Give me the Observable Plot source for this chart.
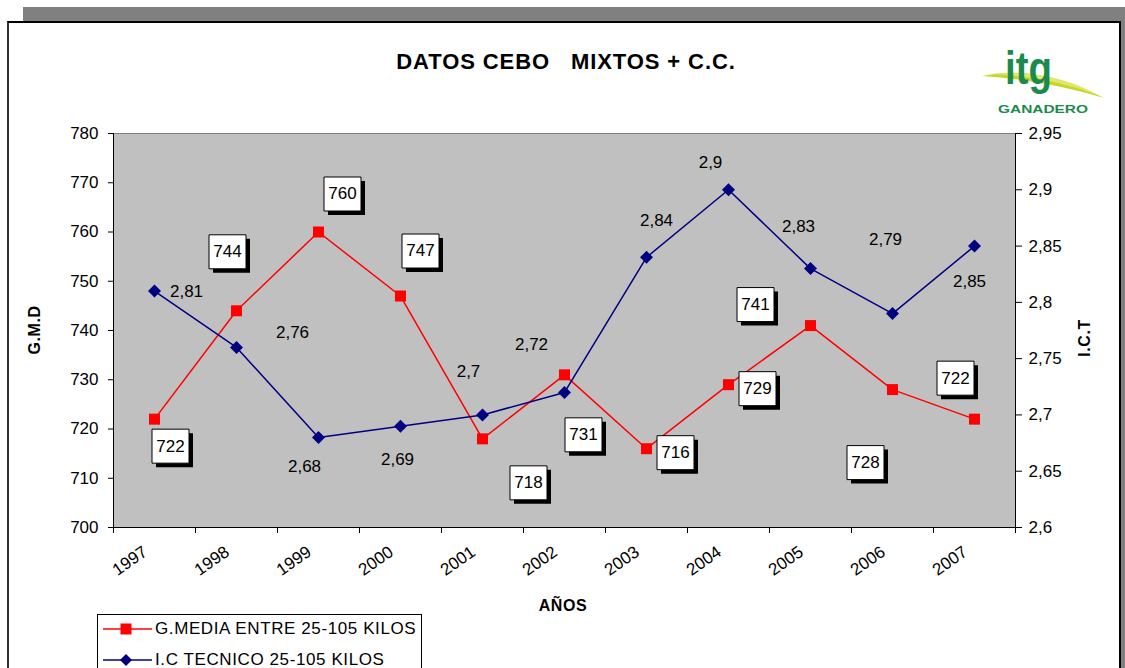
<!DOCTYPE html>
<html><head><meta charset="utf-8">
<script src="https://cdn.jsdelivr.net/npm/d3@7"></script>
<script src="https://cdn.jsdelivr.net/npm/@observablehq/plot@0.6"></script>
<style>
body{margin:0;background:#fff}
#page{position:relative;width:1125px;height:668px;overflow:hidden;background:#fff;font-family:"Liberation Sans",Arial,sans-serif;color:#000}
.abs{position:absolute}
.axt{position:absolute;font-weight:bold;font-size:16px;letter-spacing:0.6px;white-space:nowrap}
</style></head><body>
<div id="page">
  <div class="abs" style="left:23px;top:7px;width:1102px;height:15px;background:#808080"></div>
  <div class="abs" style="left:1121px;top:21px;width:4px;height:660px;background:#808080"></div>
  <div class="abs" style="left:7px;top:21px;width:1110px;height:700px;border-left:2px solid #333;border-top:2px solid #000;border-right:2px solid #000"></div>
  <div id="chart" class="abs" style="left:0;top:0"></div>
  <div class="abs" style="left:0;top:49px;width:1132px;text-align:center;font-weight:bold;font-size:22px;line-height:26px;letter-spacing:0.9px;white-space:pre">DATOS CEBO   MIXTOS + C.C.</div>
  <svg class="abs" style="left:960px;top:30px" width="160" height="100">
    <path d="M22,46 Q80,34 144,68 Q84,50 22,46 Z" fill="#c8d62a"/>
    <path d="M30,44 Q90,38 140,66 Q88,46 30,44 Z" fill="#dfe86a"/>
    <text x="45" y="54" font-size="46" font-weight="bold" fill="#1b8a4c" textLength="47" lengthAdjust="spacingAndGlyphs" font-family="Liberation Sans Narrow, Liberation Sans, Arial">itg</text>
    <text x="38" y="83" font-size="10" font-weight="bold" fill="#1b8a4c" textLength="90" lengthAdjust="spacingAndGlyphs" font-family="Liberation Sans, Arial">GANADERO</text>
  </svg>
  <div class="axt" style="left:35px;top:330px;transform:translate(-50%,-50%) rotate(-90deg)">G.M.D</div>
  <div class="axt" style="left:1085px;top:338px;transform:translate(-50%,-50%) rotate(-90deg)">I.C.T</div>
  <div class="axt" style="left:563px;top:606px;transform:translate(-50%,-50%)">AÑOS</div>
  <div class="abs" id="legend" style="left:97px;top:614px;width:323px;height:70px;border:1px solid #000;background:#fff">
    <svg class="abs" style="left:0;top:0" width="60" height="70">
      <line x1="5" x2="54" y1="14" y2="14" stroke="#ff0000" stroke-width="1.5"/>
      <rect x="22.5" y="8.5" width="11" height="11" fill="#ff0000"/>
      <line x1="5" x2="54" y1="45" y2="45" stroke="#000080" stroke-width="1.5"/>
      <path d="M28,39 L34,45 L28,51 L22,45 Z" fill="#000080"/>
    </svg>
    <div class="abs" style="left:57px;top:4px;font-size:17px;line-height:20px;letter-spacing:0.6px;white-space:nowrap">G.MEDIA ENTRE 25-105 KILOS</div>
    <div class="abs" style="left:57px;top:35px;font-size:17px;line-height:20px;letter-spacing:0.6px;white-space:nowrap">I.C TECNICO 25-105 KILOS</div>
  </div>
</div>
<script>
// ---- data ----
const years = ["1997","1998","1999","2000","2001","2002","2003","2004","2005","2006","2007"];
const gmd = [722, 744, 760, 747, 718, 731, 716, 729, 741, 728, 722];
const ict = [2.81, 2.76, 2.68, 2.69, 2.70, 2.72, 2.84, 2.90, 2.83, 2.79, 2.85];
const gmdTicks = [700, 710, 720, 730, 740, 750, 760, 770, 780];
const ictTicks = [2.6, 2.65, 2.7, 2.75, 2.8, 2.85, 2.9, 2.95];
// data-label offsets from their points (pixels)
const gmdLabelDx = [16, -9, 24, 20, 46, 19, 29, 29, -55, -27, -19];
const gmdLabelDy = [27, -59, -38, -45, 44, 60, 4, 4, -21, 73, -41];
const ictLabelDx = [32, 56, -14, -3, -14, -33, 10, -18, -12, -7, -5];
const ictLabelDy = [0, -15, 29, 33, -43, -48, -37, -27, -42, -74, 35];

// ---- layout ----
const W = 1125, H = 600, mL = 113, mR = 110, mT = 133, mB = 73;
const yDom = [700, 780], ictDom = [2.6, 2.95];
const PX = (W - mL - mR) / years.length;
const PY = (H - mT - mB) / (yDom[1] - yDom[0]);
const toLeft = v => yDom[0] + (v - ictDom[0]) / (ictDom[1] - ictDom[0]) * (yDom[1] - yDom[0]);
const fromLeft = v => ictDom[0] + (v - yDom[0]) / (yDom[1] - yDom[0]) * (ictDom[1] - ictDom[0]);
const fmt = v => String(+(+v).toFixed(2)).replace(".", ",");
const xc = (d, i) => i + 0.5;

const squareSym = {draw(c) { c.rect(-5.5, -5.5, 11, 11); }};
const diamondSym = {draw(c) { c.moveTo(0, -6.5); c.lineTo(6.5, 0); c.lineTo(0, 6.5); c.lineTo(-6.5, 0); c.closePath(); }};
const boxSym = {draw(c) { c.rect(-18.5, -17, 37, 34); }};

const lx = (d, i) => i + 0.5 + gmdLabelDx[i] / PX;
const ly = (d, i) => d - gmdLabelDy[i] / PY;
const ix = (d, i) => i + 0.5 + ictLabelDx[i] / PX;
const iy = (d, i) => toLeft(d) - ictLabelDy[i] / PY;

const chart = Plot.plot({
  width: W, height: H,
  marginLeft: mL, marginRight: mR, marginTop: mT, marginBottom: mB,
  style: {fontFamily: "'Liberation Sans', Arial, sans-serif", fontSize: "17px", color: "#000", background: "transparent", overflow: "visible"},
  x: {type: "linear", domain: [0, years.length], label: null},
  y: {domain: yDom, label: null},
  marks: [
    Plot.frame({fill: "#c0c0c0", stroke: "#808080"}),
    Plot.ruleY([yDom[0]], {stroke: "#000"}),
    Plot.ruleX([0, years.length], {stroke: "#000"}),
    Plot.axisY(gmdTicks, {anchor: "left", tickSize: 5, tickPadding: 10, label: null, fontSize: 17}),
    Plot.axisY(ictTicks.map(toLeft), {anchor: "right", tickSize: 6, tickPadding: 7, tickFormat: d => fmt(fromLeft(d)), label: null, fontSize: 17}),
    Plot.axisX(d3.range(years.length + 1), {anchor: "bottom", tickSize: 6, tickFormat: () => "", label: null}),
    Plot.text(years, {x: xc, frameAnchor: "bottom", dx: -6, dy: 27, rotate: -35, textAnchor: "end", fontSize: 17, text: d => d}),
    Plot.line(gmd, {x: xc, y: d => d, stroke: "#ff0000", strokeWidth: 1.5}),
    Plot.dot(gmd, {x: xc, y: d => d, symbol: squareSym, fill: "#ff0000", r: 6}),
    Plot.line(ict, {x: xc, y: d => toLeft(d), stroke: "#000080", strokeWidth: 1.5}),
    Plot.dot(ict, {x: xc, y: d => toLeft(d), symbol: diamondSym, fill: "#000080", r: 6}),
    Plot.dot(gmd, {x: lx, y: ly, symbol: boxSym, fill: "#000", r: 10, dx: 4, dy: 4}),
    Plot.dot(gmd, {x: lx, y: ly, symbol: boxSym, fill: "#fff", stroke: "#000", strokeWidth: 1, r: 10}),
    Plot.text(gmd, {x: lx, y: ly, text: d => String(d), fontSize: 17, fill: "#000"}),
    Plot.text(ict, {x: ix, y: iy, text: d => fmt(d), fontSize: 17, fill: "#000"})
  ]
});
document.getElementById("chart").appendChild(chart);
</script>
</body></html>
